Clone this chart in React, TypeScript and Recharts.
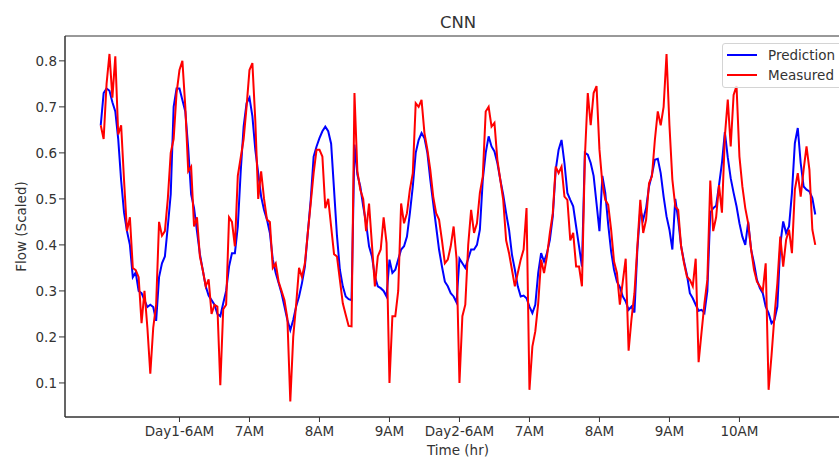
import { LineChart, Line, XAxis, YAxis, Legend, ReferenceArea } from 'recharts';

// sample index -> hour ticks (24 samples per hour)
const tickPositions = [27, 51, 75, 99, 123, 147, 171, 195, 219];
const tickLabels = ['Day1-6AM', '7AM', '8AM', '9AM', 'Day2-6AM', '7AM', '8AM', '9AM', '10AM'];
const yTicks = [0.1, 0.2, 0.3, 0.4, 0.5, 0.6, 0.7, 0.8];

const prediction = [
  0.66, 0.73, 0.74, 0.735, 0.71, 0.69, 0.63, 0.54, 0.47, 0.43,
  0.40, 0.33, 0.34, 0.30, 0.295, 0.28, 0.265, 0.27, 0.265, 0.235,
  0.33, 0.36, 0.375, 0.44, 0.51, 0.70, 0.74, 0.74, 0.715, 0.69,
  0.61, 0.51, 0.48, 0.43, 0.38, 0.345, 0.31, 0.29, 0.28, 0.27,
  0.25, 0.245, 0.273, 0.30, 0.353, 0.382, 0.382, 0.44, 0.56, 0.657,
  0.708, 0.72, 0.68, 0.607, 0.556, 0.505, 0.476, 0.455, 0.426, 0.368,
  0.339, 0.317, 0.295, 0.266, 0.237, 0.215, 0.237, 0.266, 0.288, 0.317,
  0.353, 0.426, 0.498, 0.592, 0.614, 0.632, 0.647, 0.657, 0.647, 0.62,
  0.52, 0.42, 0.346, 0.31, 0.288, 0.282, 0.28, 0.618, 0.553, 0.527,
  0.484, 0.447, 0.397, 0.375, 0.331, 0.31, 0.306, 0.30, 0.288, 0.368,
  0.339, 0.346, 0.368, 0.39, 0.397, 0.418, 0.469, 0.527, 0.60, 0.628,
  0.643, 0.632, 0.60, 0.542, 0.49, 0.44, 0.39, 0.353, 0.32, 0.31,
  0.295, 0.288, 0.275, 0.37, 0.36, 0.35, 0.37, 0.39, 0.39, 0.40,
  0.433, 0.542, 0.60, 0.636, 0.614, 0.603, 0.578, 0.542, 0.509, 0.469,
  0.433, 0.379, 0.346, 0.31, 0.288, 0.29, 0.284, 0.266, 0.252, 0.27,
  0.339, 0.382, 0.364, 0.382, 0.411, 0.462, 0.563, 0.607, 0.628, 0.578,
  0.513, 0.498, 0.484, 0.44, 0.397, 0.353, 0.60, 0.596, 0.578, 0.55,
  0.49, 0.43, 0.55, 0.513, 0.444, 0.386, 0.346, 0.32, 0.308, 0.288,
  0.277, 0.259, 0.266, 0.253, 0.39, 0.476, 0.455, 0.48, 0.527, 0.553,
  0.585, 0.587, 0.556, 0.505, 0.462, 0.433, 0.39, 0.50, 0.455, 0.397,
  0.364, 0.335, 0.295, 0.284, 0.27, 0.257, 0.259, 0.252, 0.30, 0.47,
  0.48, 0.485, 0.53, 0.578, 0.645, 0.59, 0.545, 0.513, 0.484, 0.447,
  0.418, 0.40, 0.45, 0.39, 0.36, 0.324, 0.306, 0.295, 0.266, 0.252,
  0.23, 0.237, 0.266, 0.40, 0.451, 0.426, 0.44, 0.513, 0.621, 0.654,
  0.578, 0.527, 0.52, 0.516, 0.502, 0.466,
];

const measured = [
  0.66, 0.63, 0.75, 0.815, 0.72, 0.81, 0.64, 0.66, 0.54, 0.43,
  0.46, 0.35, 0.345, 0.33, 0.23, 0.30, 0.22, 0.12, 0.22, 0.27,
  0.45, 0.42, 0.43, 0.50, 0.60, 0.63, 0.73, 0.78, 0.80, 0.70,
  0.56, 0.57, 0.44, 0.46, 0.375, 0.345, 0.31, 0.325, 0.25, 0.27,
  0.266, 0.095, 0.26, 0.27, 0.46, 0.45, 0.397, 0.55, 0.59, 0.63,
  0.70, 0.78, 0.795, 0.67, 0.50, 0.56, 0.50, 0.455, 0.45, 0.35,
  0.36, 0.32, 0.30, 0.28, 0.24, 0.06, 0.20, 0.27, 0.35, 0.33,
  0.36, 0.426, 0.49, 0.556, 0.607, 0.607, 0.592, 0.48, 0.50, 0.44,
  0.38, 0.375, 0.324, 0.273, 0.248, 0.224, 0.223, 0.73, 0.56, 0.52,
  0.50, 0.43, 0.49, 0.40, 0.31, 0.375, 0.39, 0.46, 0.404, 0.10,
  0.245, 0.245, 0.30, 0.49, 0.447, 0.469, 0.52, 0.556, 0.708, 0.70,
  0.715, 0.643, 0.607, 0.563, 0.505, 0.469, 0.455, 0.41, 0.36, 0.368,
  0.397, 0.44, 0.37, 0.10, 0.245, 0.27, 0.40, 0.476, 0.426, 0.447,
  0.513, 0.549, 0.69, 0.70, 0.657, 0.665, 0.585, 0.542, 0.498, 0.41,
  0.382, 0.346, 0.31, 0.339, 0.368, 0.39, 0.48, 0.085, 0.179, 0.212,
  0.273, 0.368, 0.339, 0.375, 0.426, 0.469, 0.57, 0.556, 0.57, 0.505,
  0.498, 0.41, 0.426, 0.353, 0.353, 0.31, 0.59, 0.73, 0.66, 0.73,
  0.745, 0.607, 0.534, 0.498, 0.487, 0.433, 0.364, 0.339, 0.27, 0.32,
  0.37, 0.17, 0.24, 0.295, 0.397, 0.498, 0.426, 0.455, 0.534, 0.549,
  0.628, 0.69, 0.66, 0.70, 0.815, 0.66, 0.542, 0.484, 0.476, 0.397,
  0.36, 0.331, 0.324, 0.31, 0.37, 0.145, 0.21, 0.273, 0.324, 0.54,
  0.43, 0.46, 0.53, 0.47, 0.636, 0.716, 0.614, 0.726, 0.745, 0.592,
  0.527, 0.48, 0.447, 0.39, 0.346, 0.32, 0.31, 0.30, 0.36, 0.085,
  0.16, 0.245, 0.317, 0.418, 0.353, 0.411, 0.433, 0.382, 0.52, 0.556,
  0.505, 0.563, 0.614, 0.563, 0.433, 0.40,
];

const data = prediction.map((p, i) => ({ t: i, prediction: p, measured: measured[i] }));

const xDomain: [number, number] = [-12.25, 257.25];
const yDomain: [number, number] = [0.026, 0.854];

const FONT = '"DejaVu Sans", sans-serif';
const TEXT = '#333';
const FS = 13.5;

function LegendBox() {
  const items = [
    { name: 'Prediction', color: 'blue' },
    { name: 'Measured', color: 'red' },
  ];
  return (
    <div
      style={{
        width: 122,
        height: 45,
        boxSizing: 'border-box',
        border: '1px solid #d4d4d4',
        borderRadius: 3,
        background: 'rgba(255,255,255,0.8)',
        paddingTop: 1,
        fontFamily: FONT,
        fontSize: FS,
        color: TEXT,
      }}
    >
      {items.map((it) => (
        <div key={it.name} style={{ display: 'flex', alignItems: 'center', height: 20 }}>
          <span style={{ display: 'inline-block', width: 30, height: 2, background: it.color, marginLeft: 4, marginRight: 11 }} />
          <span>{it.name}</span>
        </div>
      ))}
    </div>
  );
}

const renderXLabel = (props: any) => {
  const vb = props?.viewBox ?? { x: 65, width: 786 };
  return (
    <text x={vb.x + vb.width / 2} y={455} textAnchor="middle" fontFamily={FONT} fontSize={FS} fill={TEXT}>
      Time (hr)
    </text>
  );
};

const renderYLabel = (props: any) => {
  const vb = props?.viewBox ?? { y: 36, height: 381 };
  const cx = 26;
  const cy = vb.y + vb.height / 2;
  return (
    <text x={cx} y={cy} transform={`rotate(-90 ${cx} ${cy})`} textAnchor="middle" fontFamily={FONT} fontSize={FS} fill={TEXT}>
      Flow (Scaled)
    </text>
  );
};

export default function App() {
  return (
    <div style={{ position: 'fixed', left: 0, top: 0, width: 839, height: 459, overflow: 'hidden', background: '#fff' }}>
      <div
        style={{
          position: 'absolute',
          left: 0,
          top: 13,
          width: 916,
          textAlign: 'center',
          fontFamily: FONT,
          fontSize: 16.5,
          lineHeight: '19px',
          color: TEXT,
          zIndex: 2,
        }}
      >
        CNN
      </div>
      <LineChart width={880} height={459} data={data} margin={{ top: 36, right: 29, bottom: 12, left: 20 }}>
        <XAxis
          type="number"
          dataKey="t"
          domain={xDomain}
          allowDataOverflow
          ticks={tickPositions}
          interval={0}
          tickFormatter={(v: number) => tickLabels[tickPositions.indexOf(v)] ?? ''}
          height={30}
          tickSize={5}
          tickMargin={4}
          stroke="#333"
          tick={{ fill: TEXT, fontSize: FS, fontFamily: FONT }}
          label={renderXLabel}
        />
        <YAxis
          type="number"
          domain={yDomain}
          allowDataOverflow
          ticks={yTicks}
          interval={0}
          tickFormatter={(v: number) => v.toFixed(1)}
          width={45}
          tickSize={6}
          tickMargin={2}
          stroke="#333"
          tick={{ fill: TEXT, fontSize: FS, fontFamily: FONT }}
          label={renderYLabel}
        />
        <ReferenceArea
          x1={xDomain[0]}
          x2={xDomain[1]}
          y1={yDomain[0]}
          y2={yDomain[1]}
          fill="none"
          stroke="#333"
          strokeWidth={1}
          ifOverflow="visible"
        />
        <Line
          type="linear"
          dataKey="prediction"
          name="Prediction"
          stroke="blue"
          strokeWidth={2}
          dot={false}
          activeDot={false}
          isAnimationActive={false}
        />
        <Line
          type="linear"
          dataKey="measured"
          name="Measured"
          stroke="red"
          strokeWidth={2}
          dot={false}
          activeDot={false}
          isAnimationActive={false}
        />
        <Legend
          layout="horizontal"
          verticalAlign="middle"
          align="center"
          content={() => <LegendBox />}
          wrapperStyle={{ top: 43, left: 722, width: 122 }}
        />
      </LineChart>
    </div>
  );
}
